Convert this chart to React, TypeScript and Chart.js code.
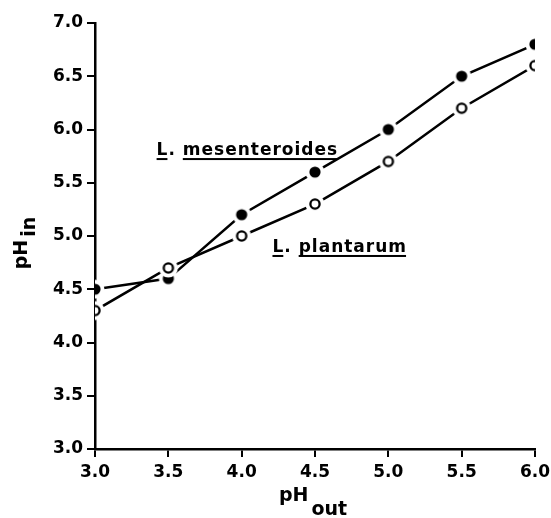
import React, { useEffect, useRef } from "react";
import { Chart, registerables } from "chart.js";

Chart.register(...registerables);

const phOut = [3.0, 3.5, 4.0, 4.5, 5.0, 5.5, 6.0];
const mesenteroides = [4.5, 4.6, 5.2, 5.6, 6.0, 6.5, 6.8];
const plantarum = [4.3, 4.7, 5.0, 5.3, 5.7, 6.2, 6.6];

const FONT = '"DejaVu Sans", sans-serif';

const toXY = (ys: number[]) => phOut.map((x, i) => ({ x, y: ys[i] }));

function makeMarker(filled: boolean) {
  const c = document.createElement("canvas");
  c.width = 22;
  c.height = 22;
  const g = c.getContext("2d")!;
  g.fillStyle = "#fff";
  g.beginPath();
  g.arc(11, 11, 9.5, 0, Math.PI * 2);
  g.fill();
  g.beginPath();
  if (filled) {
    g.fillStyle = "#000";
    g.arc(11, 11, 5.6, 0, Math.PI * 2);
    g.fill();
  } else {
    g.arc(11, 11, 4.6, 0, Math.PI * 2);
    g.fillStyle = "#fff";
    g.fill();
    g.lineWidth = 2.3;
    g.strokeStyle = "#000";
    g.stroke();
  }
  return c;
}

function underlinedLabel(ctx: any, left: number, base: number, genus: string, species: string) {
  ctx.font = `bold 17px ${FONT}`;
  ctx.letterSpacing = "1px";
  ctx.textAlign = "left";
  ctx.textBaseline = "alphabetic";
  const gw = ctx.measureText(genus).width;
  const dot = ". ";
  const dw = ctx.measureText(dot).width;
  const sw = ctx.measureText(species).width;
  ctx.fillText(genus, left, base);
  ctx.fillText(dot, left + gw, base);
  ctx.fillText(species, left + gw + dw, base);
  ctx.fillRect(left, base + 3, gw - 1, 2);
  ctx.fillRect(left + gw + dw, base + 3, sw - 1, 2);
  ctx.letterSpacing = "0px";
}

const textPlugin = {
  id: "texts",
  afterDraw(chart: any) {
    const { ctx, scales } = chart;
    const x = scales.x;
    const y = scales.y;
    ctx.save();
    ctx.fillStyle = "#000";
    underlinedLabel(ctx, x.getPixelForValue(3.42), y.getPixelForValue(5.76), "L", "mesenteroides");
    underlinedLabel(ctx, x.getPixelForValue(4.21), y.getPixelForValue(4.85), "L", "plantarum");

    ctx.font = `bold 19px ${FONT}`;
    ctx.textBaseline = "alphabetic";
    ctx.textAlign = "left";
    const a = "pH", b = "out";
    const aw = ctx.measureText(a).width;
    const bw = ctx.measureText(b).width;
    const gap = 3;
    const total = aw + gap + bw;
    const cx = (x.left + x.right) / 2 - 2;
    const sx = cx - total / 2;
    ctx.fillText(a, sx, 501);
    ctx.fillText(b, sx + aw + gap, 515);

    const cy = (y.top + y.bottom) / 2 + 7;
    ctx.translate(27, cy);
    ctx.rotate(-Math.PI / 2);
    const cw = ctx.measureText("in").width;
    const t2 = aw + 3 + cw;
    ctx.fillText(a, -t2 / 2, 0);
    ctx.fillText("in", -t2 / 2 + aw + 3, 8);
    ctx.restore();
  },
};

export default function App() {
  const ref = useRef<HTMLCanvasElement>(null);
  useEffect(() => {
    if (!ref.current) return;
    const filledMarker = makeMarker(true);
    const openMarker = makeMarker(false);
    const tickFont = { family: FONT, size: 17, weight: "bold" };
    const chart = new Chart(ref.current, {
      type: "scatter",
      data: {
        datasets: [
          {
            label: "L. plantarum",
            data: toXY(plantarum),
            showLine: true,
            borderColor: "#000",
            borderWidth: 2.5,
            pointStyle: openMarker,
            pointRadius: 6,
            pointHoverRadius: 6,
          },
          {
            label: "L. mesenteroides",
            data: toXY(mesenteroides),
            showLine: true,
            borderColor: "#000",
            borderWidth: 2.5,
            pointStyle: filledMarker,
            pointRadius: 6,
            pointHoverRadius: 6,
          },
        ],
      },
      options: {
        animation: false,
        responsive: true,
        maintainAspectRatio: false,
        layout: { padding: { top: 23, right: 16, left: 0, bottom: 0 } },
        plugins: { legend: { display: false }, tooltip: { enabled: false } },
        scales: {
          x: {
            type: "linear",
            min: 3,
            max: 6,
            afterFit: (s: any) => { s.height = 69; s.paddingLeft = 0; s.paddingRight = 0; },
            border: { display: true, color: "#000", width: 2.5 },
            grid: { drawOnChartArea: false, drawTicks: true, tickLength: 8, color: "#000", lineWidth: 2 },
            ticks: {
              stepSize: 0.5,
              padding: 5,
              color: "#000",
              font: tickFont,
              callback: (v: any) => Number(v).toFixed(1),
            },
          },
          y: {
            type: "linear",
            min: 3,
            max: 7,
            afterFit: (s: any) => { s.width = 95; s.paddingTop = 0; s.paddingBottom = 0; },
            border: { display: true, color: "#000", width: 2.5 },
            grid: { drawOnChartArea: false, drawTicks: true, tickLength: 8, color: "#000", lineWidth: 2 },
            ticks: {
              stepSize: 0.5,
              padding: 4,
              color: "#000",
              font: tickFont,
              callback: (v: any) => Number(v).toFixed(1),
            },
          },
        },
      },
      plugins: [textPlugin],
    } as any);
    return () => chart.destroy();
  }, []);
  return (
    <div style={{ position: "absolute", left: 0, top: 0, width: 551, height: 518 }}>
      <canvas ref={ref} />
    </div>
  );
}
